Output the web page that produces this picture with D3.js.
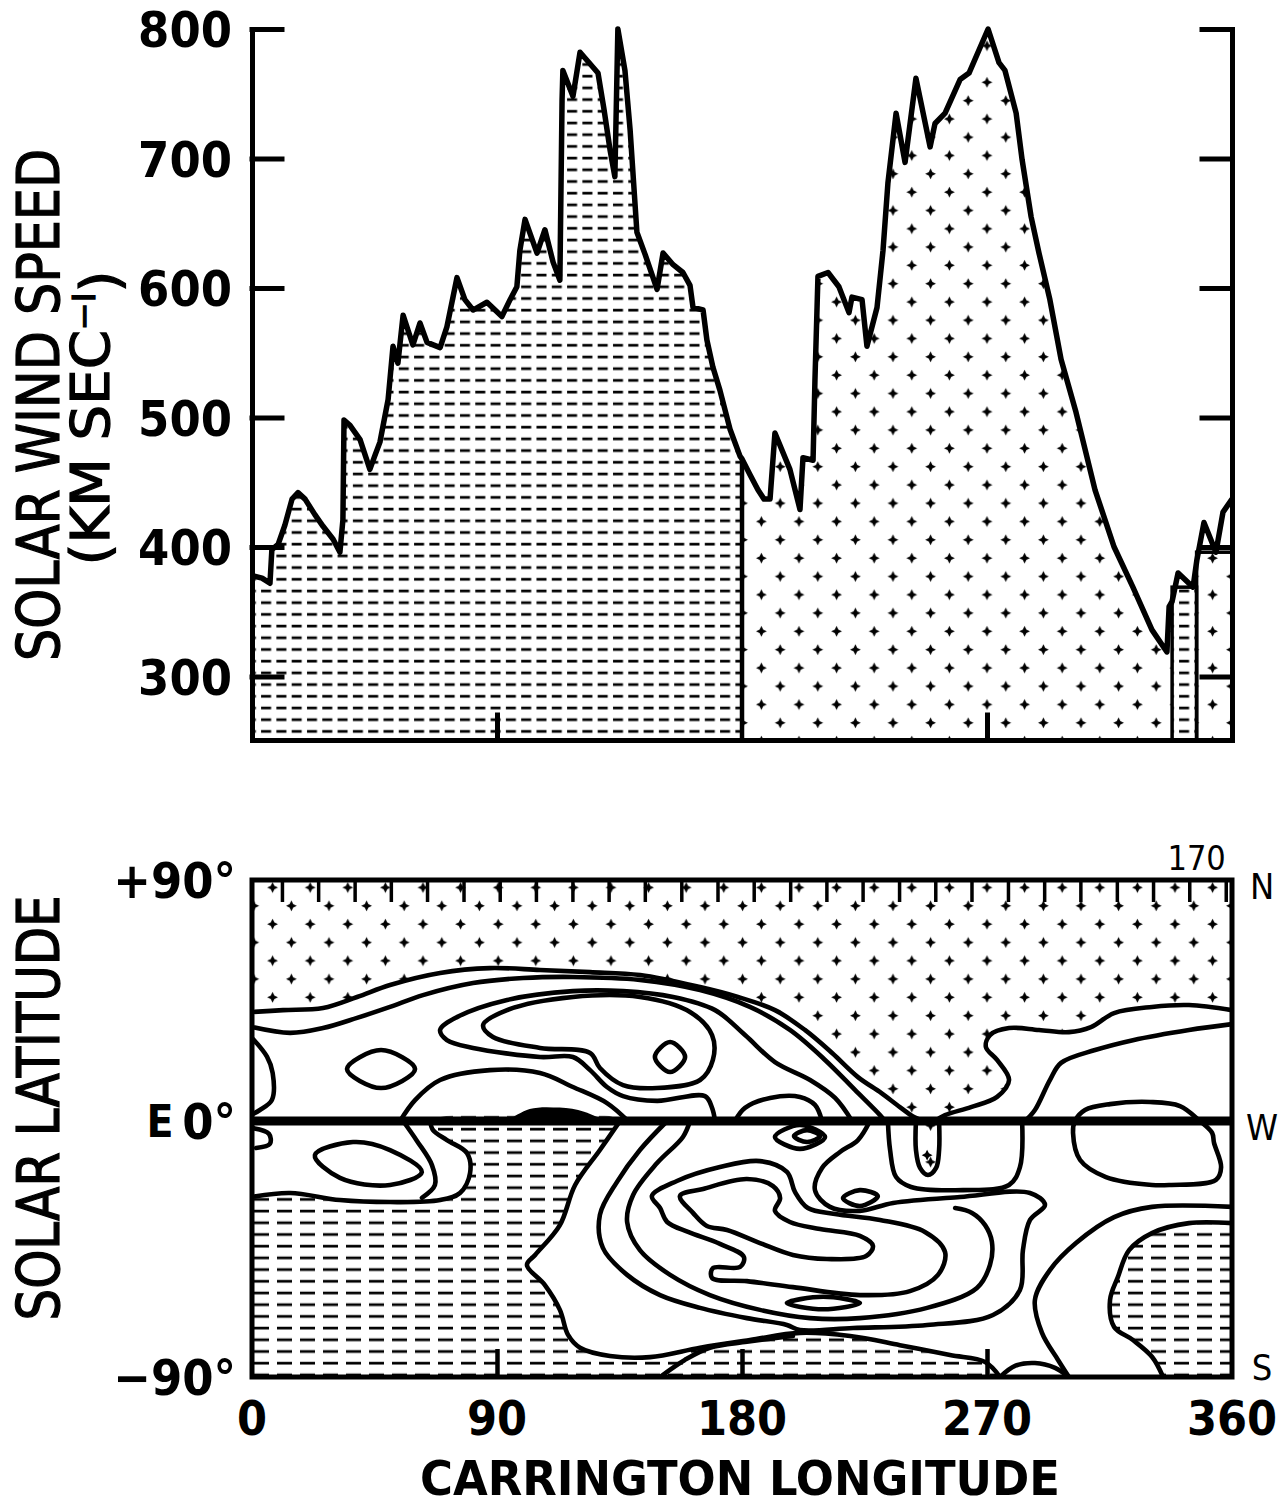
<!doctype html>
<html lang="en">
<head>
  <meta charset="utf-8">
  <title>Solar wind speed and solar latitude</title>
  <script src="https://cdn.jsdelivr.net/npm/d3@7"></script>
  <style>
    body { margin: 0; background: #fff; }
    text { fill: #000; }
  </style>
</head>
<body>
<div id="chart"></div>
<script>

// ---- top panel: solar wind speed trace (Carrington longitude, km/s)
var speedLon = [0,3.7,6.6,7.3,9.6,12.1,14.7,16.9,19.5,23.1,
  26.1,29.8,32.3,33.4,33.8,36.0,39.7,43.3,45.2,47.0,
  50.0,51.8,53.6,55.5,59.1,61.7,64.3,69.1,71.6,75.3,
  78.2,81.2,86.3,91.8,94.8,97.3,98.4,100.3,104.7,107.6,
  110.6,113.1,113.9,114.2,117.9,120.5,127.1,129.3,131.5,133.3,
  134.4,137.0,138.9,141.4,144.4,148.8,151.0,154.7,158.3,160.9,
  162.0,165.7,167.1,169.3,171.9,175.6,179.3,180,182.9,185.9,
  188.1,190.3,192.1,197.6,201.3,202.4,206.1,206.8,207.9,211.6,
  215.6,219.3,220.4,224.1,225.9,229.6,231.8,233.6,236.6,239.9,
  243.9,249.1,250.9,254.6,260.1,263.4,270.4,274.4,276.6,280.7,
  282.9,286.2,289.1,293.1,297.2,302.7,309.7,316.7,323.6,330.6,
  336.1,336.9,338.0,340.2,345.7,347.1,349.7,354.1,356.7,360];
var speed = [378,376,372,398,402,417,437,442,437,425,
  416,406,396,421,498,494,483,460,471,481,
  514,555,542,579,556,573,558,554,570,608,
  591,583,589,578,591,601,629,653,627,645,
  620,606,745,768,748,782,766,738,707,686,
  800,768,722,643,626,599,627,618,612,602,
  585,583,560,539,521,491,470,468,456,444,
  437,437,488,460,429,469,467,529,609,612,
  601,581,593,591,555,585,629,681,735,697,
  762,709,727,735,761,766,800,774,768,735,
  699,655,627,591,545,504,444,400,369,336,
  319,354,358,380,369,390,419,396,427,437];

// shading of the speed trace by source hemisphere
var fillSegs = [
  {from: 0,   to: 180, fill: "hatchTop", top: null},
  {from: 180, to: 338, fill: "dots",     top: null},
  {from: 338, to: 347, fill: "hatchTop", top: 369},
  {from: 347, to: 360, fill: "dots",     top: 396}
];

var speedTicks = [300, 400, 500, 600, 700, 800];
var lonTicks = [0, 90, 180, 270, 360];
var lonInner = [90, 180, 270];
var latLabels = [{lat: 90, t: "+90°"}, {lat: 0, t: "0°"}, {lat: -90, t: "\u221290°"}];
var sideLetters = [{lat: 90, t: "N", dy: 6}, {lat: 0, t: "W", dy: 6}, {lat: -90, t: "S", dy: -10}];
var dayLon = [11.0,24.3,37.7,51.0,64.3,77.7,91.0,104.3,117.7,131.0,144.3,157.7,171.0,
  184.3,197.7,211.0,224.3,237.7,251.0,264.3,277.7,291.0,304.3,317.7,331.0,344.3,357.7];

// ---- bottom panel: source-surface contours [longitude, latitude]
var contA = [[0,40.7],[11.4,41.4],[26.1,42.2],[38.6,46.3],[50.7,50.8],[69.1,55.3],[87.4,57.1],[105.8,56.4],[124.2,55.6],[142.6,54.5],[164.6,50.0],[178.5,46.3],[192.1,41.4],[203.1,34.0],[213.1,25.4],[222.6,16.4],[231.1,10.5],[238.0,5.2],[243.2,1.5],[247.2,0]];
var contD = [[251,0],[254.6,2.2],[264.1,5.2],[273.7,9.0],[278.1,15.3],[273.7,22.8],[269.6,27.6],[271.1,32.1],[278.1,34.7],[289.1,34.0],[300.1,33.2],[308.2,35.1],[316.7,40.3],[330.6,42.6],[344.2,43.3],[360,41.4]];
var contE = [[284,0],[287.6,4.1],[293.1,15.3],[297.2,21.7],[309.7,26.5],[323.6,30.2],[344.2,34.0],[360,36.2]];
var contB = [[0,35.1],[14.0,32.9],[26.1,34.7],[38.6,38.5],[50.7,42.6],[62.8,47.0],[81.2,51.5],[99.6,53.4],[117.9,53.8],[142.5,52.7],[164.6,48.9],[182.9,42.6],[197.6,34.0],[210.5,22.8],[221.5,11.6],[230.7,2.2],[232.5,0]];
var contL1 = [[170.1,0],[169.0,4.9],[166.4,9.3],[148.8,7.5],[136.3,9.3],[130.4,12.7],[124.2,19.0],[117.9,23.9],[105.8,23.9],[81.2,27.3],[71.6,30.2],[69.1,34.0],[75.3,38.8],[93.7,45.2],[117.9,48.5],[136.3,48.5],[154.7,46.3],[170.1,41.4],[181.1,32.1],[192.1,22.0],[205.0,15.3],[214.2,8.6],[220.4,0]];
var contL2 = [[84.9,35.8],[93.7,41.4],[117.9,46.3],[142.5,46.3],[160.9,40.7],[169.0,32.1],[169.3,22.8],[164.6,15.3],[148.8,12.3],[136.3,13.4],[127.8,19.8],[124.2,25.4],[105.8,27.3],[88.5,31.4]];
var ringN = [[148.0,23.9],[153.6,29.5],[159.1,23.9],[153.6,18.3]];
var ovalN = [[34.9,19.4],[47.4,26.5],[59.9,19.4],[47.4,12.3]];
var edgeN = [[0,31],[5.5,24],[7.6,17.9],[7.3,7.8],[2.9,4.1],[0,2.5]];
var edgeS = [[0,-2.5],[6.2,-4.5],[6.6,-8],[1.5,-9.5]];
var humpW = [[54.4,0],[59.9,7.8],[69.1,15.3],[87.4,19.0],[105.8,17.9],[117.9,12.7],[130.4,6.7],[138.1,0]];
var lens = [[93.7,0],[102,4.5],[113,5],[122,3.5],[130,0]];
var humpM = [[177.4,0],[181.1,4.9],[190.3,8.6],[201.3,9.0],[206.8,6.0],[209.4,0]];
var loopF = [[302.3,0],[306.0,4.1],[315.2,6.3],[329.9,7.1],[340.9,5.6],[348.2,0],[352.7,-4.2],[353.4,-7.7],[356.0,-16.2],[354.1,-20.7],[337.2,-22.5],[330.6,-22.5],[313.7,-19.7],[304.2,-13.7],[301.6,-4.2]];
var contS1 = [[0,-26.7],[14.0,-25.3],[32.3,-27.8],[50.7,-28.5],[69.1,-27.8],[76.4,-25.3],[80.1,-18.3],[79.0,-11.3],[71.6,-6.7],[66.5,-3.2],[65.4,0]];
var ovalS = [[23.1,-12.0],[37.1,-7.4],[50.7,-10.2],[62.4,-17.9],[50.7,-22.5],[32.3,-20.0]];
var contHa = [[55.5,0],[60.6,-7.0],[66.1,-15.5],[67.2,-22.5],[62.4,-27.0]];
var contC1 = [[135.2,0],[127.8,-10.2],[118.7,-22.5],[113.1,-36.6],[104.0,-47.1],[101.0,-50.6],[107.6,-57.7],[113.1,-66.4],[116.1,-75.2],[120.5,-79.7],[131.5,-82.6],[146.2,-83.0],[164.6,-79.7],[182.9,-77.0],[201.3,-74.5],[219.7,-75.6],[238.0,-78.8],[256.4,-82.3],[269.3,-84.7],[274.8,-90]];
var contC2 = [[152.5,0],[142.5,-10.2],[134.1,-21.4],[127.8,-33.0],[128.9,-44.6],[137.8,-54.1],[149.9,-61.2],[164.6,-65.7],[181.8,-69.3],[196.5,-71.7],[201.3,-73.5],[220.8,-72.8],[248.0,-71.7],[272.2,-68.2],[282.1,-59.4],[283.2,-45.4],[285.8,-34.8],[291.3,-29.5],[285.8,-25.3],[260.1,-26.7],[235.5,-28.8],[223.3,-31.6],[212.3,-30.2],[206.8,-24.3],[209.4,-16.5],[216.0,-10.9],[222.6,-6.7],[227.0,0]];
var contC3 = [[160.9,0],[158.3,-5.6],[148.8,-14.8],[140.0,-26.0],[137.8,-35.5],[142.5,-45.4],[153.6,-54.1],[168.2,-61.2],[186.6,-66.4],[205.0,-69.3],[223.3,-69.3],[248.0,-65.7],[266.3,-58.7],[271.1,-50.6],[271.8,-42.5],[269.3,-36.6],[264.5,-32.3],[258.3,-30.6]];
var loopI1 = [[157.2,-26.4],[165.7,-23.9],[181.8,-20.4],[191.4,-22.9],[194.0,-27.1],[192.1,-31.6],[197.6,-35.5],[208.7,-38.0],[223.3,-40.4],[228.1,-43.9],[225.6,-47.5],[211.2,-48.5],[198.7,-47.1],[186.6,-42.9],[174.5,-38.3],[167.1,-36.9],[162.0,-32.3]];
var loopI2 = [[146.9,-26.4],[156.1,-21.1],[171.9,-16.2],[186.6,-14.1],[196.5,-17.9],[199.5,-25.0],[204.2,-30.6],[214.2,-32.7],[230.7,-34.8],[247.2,-39.0],[254.6,-46.1],[252.0,-54.1],[241.7,-59.8],[223.3,-61.2],[198.7,-58.4],[181.8,-56.3],[169.0,-55.2],[169.3,-51.7],[179.3,-51.3],[180.7,-47.8],[171.9,-43.2],[160.2,-39.0],[152.5,-35.5],[149.9,-30.6]];
var ovalFlat = [[196.5,-64.0],[209.8,-61.8],[223.3,-64.0],[209.8,-66.2]];
var ovalEqOut = [[192.1,-5.6],[201.3,-1.4],[210.5,-5.6],[201.3,-9.8]];
var ovalEqIn = [[199.1,-5.3],[203.9,-3.2],[208.7,-5.3],[203.9,-7.4]];
var ovalDrop = [[217.1,-27.1],[223.3,-24.3],[229.9,-26.4],[223.3,-29.9]];
var tearDrop = [[243.9,0],[243.9,-10.2],[245.4,-16.5],[248.3,-19.0],[251.3,-16.5],[252.4,-10.2],[252.4,0]];
var archU = [[233.6,0],[234.4,-10.2],[236.6,-19.7],[242.1,-23.2],[261.2,-24.3],[278.1,-22.5],[282.1,-16.2],[282.9,0]];
var contR3 = [[360,-30.2],[330.6,-30.2],[316.7,-33.8],[302.7,-42.9],[293.1,-52.4],[287.6,-62.9],[290.2,-74.5],[296.1,-84.0],[300.1,-90]];
var contHS2 = [[360,-35.9],[344.2,-35.9],[330.6,-39.4],[322.2,-45.4],[318.1,-54.8],[315.2,-62.9],[316.7,-72.4],[323.6,-77.0],[330.6,-82.9],[334.7,-90]];
var humpB = [[149.9,-90],[159.0,-84.0],[168.2,-79.7],[181.8,-77.6],[198.7,-75.6]];
var humpBR = [[274.8,-90],[280.3,-86.1],[287.6,-85.1],[295.0,-86.8],[300.1,-90]];

var openLines = [contA, contD, contE, contB, contL1, edgeN, edgeS, humpW, humpM, contS1, contHa,
  contC1, contC2, contC3, contR3, contHS2, humpB, humpBR, archU, tearDrop];
var closedLines = [contL2, ringN, ovalN, loopF, ovalS, loopI1, loopI2, ovalFlat, ovalEqOut, ovalEqIn, ovalDrop];

// ---- scales
var x = d3.scaleLinear().domain([0, 360]).range([252, 1232]);
var ySpeed = d3.scaleLinear().domain([251, 800]).range([740, 29]);
var yLat = d3.scaleLinear().domain([90, 0, -90]).range([880, 1121, 1377]);

var svg = d3.select("#chart").append("svg")
    .attr("width", 1287).attr("height", 1508);
var defs = svg.append("defs");

// fill patterns
var starD = "M0,-5.4L1.8,-1.8L5.4,0L1.8,1.8L0,5.4L-1.8,1.8L-5.4,0L-1.8,-1.8Z";
var dots = defs.append("pattern").attr("id", "dots")
    .attr("patternUnits", "userSpaceOnUse").attr("width", 37.6).attr("height", 36.6);
dots.append("path").attr("d", starD).attr("transform", "translate(9.4,9.2)");
dots.append("path").attr("d", starD).attr("transform", "translate(28.2,27.5)");

function hatch(id, w, dash) {
  var p = defs.append("pattern").attr("id", id)
      .attr("patternUnits", "userSpaceOnUse").attr("width", w).attr("height", 11.7);
  p.append("line").attr("x1", 1).attr("x2", 1 + dash).attr("y1", 6).attr("y2", 6)
      .attr("stroke", "#000").attr("stroke-width", 2.7);
}
hatch("hatchTop", 15.3, 10);
hatch("hatchBot", 23, 15);

defs.append("clipPath").attr("id", "clipTop").append("rect")
    .attr("x", x(0)).attr("y", 0).attr("width", x(360) - x(0)).attr("height", ySpeed(251));
defs.append("clipPath").attr("id", "clipBot").append("rect")
    .attr("x", x(0)).attr("y", yLat(90)).attr("width", x(360) - x(0)).attr("height", yLat(-90) - yLat(90));

// ================= TOP PANEL =================
var pts = speedLon.map(function(l, i) { return [l, speed[i]]; });
var upper = svg.append("g");

fillSegs.forEach(function(s, i) {
  if (s.top === null) {
    defs.append("clipPath").attr("id", "seg" + i).append("rect")
        .attr("x", x(s.from)).attr("y", 0)
        .attr("width", x(s.to) - x(s.from)).attr("height", ySpeed(251));
    upper.append("path")
        .attr("d", d3.area().x(function(d) { return x(d[0]); })
          .y0(ySpeed(251)).y1(function(d) { return ySpeed(d[1]); })(pts))
        .attr("fill", "url(#" + s.fill + ")")
        .attr("clip-path", "url(#seg" + i + ")");
  } else {
    upper.append("rect")
        .attr("x", x(s.from)).attr("y", ySpeed(s.top))
        .attr("width", x(s.to) - x(s.from)).attr("height", ySpeed(251) - ySpeed(s.top))
        .attr("fill", "url(#" + s.fill + ")")
        .attr("stroke", "#000").attr("stroke-width", 3.5);
  }
});

// boundary between the two shaded regions
upper.append("line")
    .attr("x1", x(180)).attr("x2", x(180))
    .attr("y1", ySpeed(251)).attr("y2", ySpeed(speed[speedLon.indexOf(180)]))
    .attr("stroke", "#000").attr("stroke-width", 4.5);

upper.append("path")
    .attr("d", d3.line().x(function(d) { return x(d[0]); }).y(function(d) { return ySpeed(d[1]); })(pts))
    .attr("fill", "none").attr("stroke", "#000").attr("stroke-width", 5.5)
    .attr("stroke-linejoin", "round").attr("clip-path", "url(#clipTop)");

// axes (ticks pointing inward)
function styleAxis(g) {
  g.selectAll("path, line").attr("stroke", "#000").attr("stroke-width", 5).attr("stroke-linecap", "square");
  g.selectAll("text").remove();
}
upper.append("g").attr("transform", "translate(" + x(0) + ",0)")
    .call(d3.axisRight(ySpeed).tickValues(speedTicks).tickSize(30).tickSizeOuter(0).tickFormat(""))
    .call(styleAxis);
upper.append("g").attr("transform", "translate(" + x(360) + ",0)")
    .call(d3.axisLeft(ySpeed).tickValues(speedTicks).tickSize(30).tickSizeOuter(0).tickFormat(""))
    .call(styleAxis);
upper.append("g").attr("transform", "translate(0," + ySpeed(251) + ")")
    .call(d3.axisTop(x).tickValues([90, 270]).tickSize(25).tickSizeOuter(0).tickFormat(""))
    .call(styleAxis);

var numFont = "'DejaVu Sans Condensed', 'DejaVu Sans', sans-serif";
upper.selectAll("text.sp")
  .data(speedTicks)
  .enter().append("text")
    .attr("x", 232).attr("y", function(d) { return ySpeed(d); })
    .attr("dy", "0.36em")
    .attr("text-anchor", "end")
    .style("font-family", numFont)
    .style("font-weight", "bold").style("font-size", "50px")
    .text(function(d) { return d; });

svg.append("text")
    .attr("transform", "translate(38,405) rotate(-90)")
    .attr("text-anchor", "middle").attr("dy", "0.36em")
    .attr("textLength", 512).attr("lengthAdjust", "spacingAndGlyphs")
    .style("font-family", numFont)
    .style("font-size", "58px").style("stroke", "#000").style("stroke-width", "1.2px")
    .text("SOLAR WIND SPEED");
var unit = svg.append("text")
    .attr("transform", "translate(90,418) rotate(-90)")
    .attr("text-anchor", "middle").attr("dy", "0.36em")
    .attr("textLength", 295).attr("lengthAdjust", "spacingAndGlyphs")
    .style("font-family", numFont)
    .style("font-size", "54px").style("stroke", "#000").style("stroke-width", "1.2px");
unit.append("tspan").text("(KM SEC");
unit.append("tspan").attr("dy", "-0.45em").style("font-size", "32px").text("\u2212I");
unit.append("tspan").attr("dy", "0.45em").text(")");

// ================= BOTTOM PANEL =================
var lower = svg.append("g");
var geo = d3.line().x(function(d) { return x(d[0]); }).y(function(d) { return yLat(d[1]); })
    .curve(d3.curveCatmullRom.alpha(0.5));
var geoClosed = d3.line().x(function(d) { return x(d[0]); }).y(function(d) { return yLat(d[1]); })
    .curve(d3.curveCatmullRomClosed.alpha(0.5));
var shade = lower.append("g").attr("clip-path", "url(#clipBot)");

// northern dotted region
var northPoly = [[0, 90], [360, 90]].concat(contD.slice().reverse()).concat(contA.slice().reverse());
shade.append("path").attr("d", geo(northPoly) + "Z").attr("fill", "url(#dots)");
shade.append("path").attr("d", geo(tearDrop) + "Z").attr("fill", "url(#dots)");
// southern hatched regions
var southWest = [[0, -90]].concat(contS1).concat(contC1);
shade.append("path").attr("d", geo(southWest) + "Z").attr("fill", "url(#hatchBot)");
var southEast = contHS2.concat([[360, -90]]);
shade.append("path").attr("d", geo(southEast) + "Z").attr("fill", "url(#hatchBot)");

var lines = lower.append("g").attr("clip-path", "url(#clipBot)")
    .attr("fill", "none").attr("stroke", "#000").attr("stroke-width", 4.6)
    .attr("stroke-linejoin", "round").attr("stroke-linecap", "round");
lines.selectAll("path.open").data(openLines).enter().append("path")
    .attr("d", function(d) { return geo(d); });
lines.selectAll("path.closed").data(closedLines).enter().append("path")
    .attr("d", function(d) { return geoClosed(d); });
lower.append("path").attr("d", geo(lens) + "Z").attr("fill", "#000");
lower.append("path").attr("d", starD)
    .attr("transform", "translate(" + x(248) + "," + yLat(-12) + ")");

// magnetic equator line
lower.append("line")
    .attr("x1", x(0)).attr("x2", x(360)).attr("y1", yLat(0)).attr("y2", yLat(0))
    .attr("stroke", "#000").attr("stroke-width", 9);

// frame and ticks
lower.append("rect")
    .attr("x", x(0)).attr("y", yLat(90))
    .attr("width", x(360) - x(0)).attr("height", yLat(-90) - yLat(90))
    .attr("fill", "none").attr("stroke", "#000").attr("stroke-width", 5);
lower.append("g").attr("transform", "translate(0," + yLat(90) + ")")
    .call(d3.axisBottom(x).tickValues(dayLon).tickSize(22).tickSizeOuter(0).tickFormat(""))
    .call(function(g) {
      g.select(".domain").remove();
      g.selectAll("line").attr("stroke", "#000").attr("stroke-width", 3.5);
    });
lower.append("g").attr("transform", "translate(0," + yLat(-90) + ")")
    .call(d3.axisTop(x).tickValues(lonInner).tickSize(28).tickSizeOuter(0).tickFormat(""))
    .call(function(g) {
      g.select(".domain").remove();
      g.selectAll("line").attr("stroke", "#000").attr("stroke-width", 4.5);
    });

lower.selectAll("text.lat").data(latLabels).enter().append("text")
    .attr("x", 236).attr("y", function(d) { return yLat(d.lat); })
    .attr("dy", "0.36em").attr("text-anchor", "end")
    .style("font-family", numFont).style("font-weight", "bold").style("font-size", "50px")
    .text(function(d) { return d.t; });
lower.append("text")
    .attr("x", 160).attr("y", yLat(0)).attr("dy", "0.36em").attr("text-anchor", "middle")
    .style("font-family", numFont).style("font-weight", "bold").style("font-size", "44px")
    .text("E");
lower.selectAll("text.side").data(sideLetters).enter().append("text")
    .attr("x", 1262).attr("y", function(d) { return yLat(d.lat) + d.dy; })
    .attr("dy", "0.36em").attr("text-anchor", "middle")
    .style("font-family", numFont).style("font-size", "36px")
    .text(function(d) { return d.t; });
lower.append("text")
    .attr("x", x(347)).attr("y", yLat(90) - 22).attr("dy", "0.36em").attr("text-anchor", "middle")
    .style("font-family", numFont).style("font-size", "34px")
    .text("170");

lower.selectAll("text.lon").data(lonTicks).enter().append("text")
    .attr("x", function(d) { return x(d); }).attr("y", yLat(-90) + 41)
    .attr("dy", "0.36em").attr("text-anchor", "middle")
    .style("font-family", numFont).style("font-weight", "bold").style("font-size", "48px")
    .text(function(d) { return d; });

svg.append("text")
    .attr("x", 740).attr("y", 1478).attr("dy", "0.36em").attr("text-anchor", "middle")
    .attr("textLength", 640).attr("lengthAdjust", "spacingAndGlyphs")
    .style("font-family", numFont).style("font-weight", "bold").style("font-size", "48px")
    .text("CARRINGTON LONGITUDE");
svg.append("text")
    .attr("transform", "translate(38,1108) rotate(-90)")
    .attr("text-anchor", "middle").attr("dy", "0.36em")
    .attr("textLength", 425).attr("lengthAdjust", "spacingAndGlyphs")
    .style("font-family", numFont)
    .style("font-size", "58px").style("stroke", "#000").style("stroke-width", "1.2px")
    .text("SOLAR LATITUDE");

</script>
</body>
</html>
